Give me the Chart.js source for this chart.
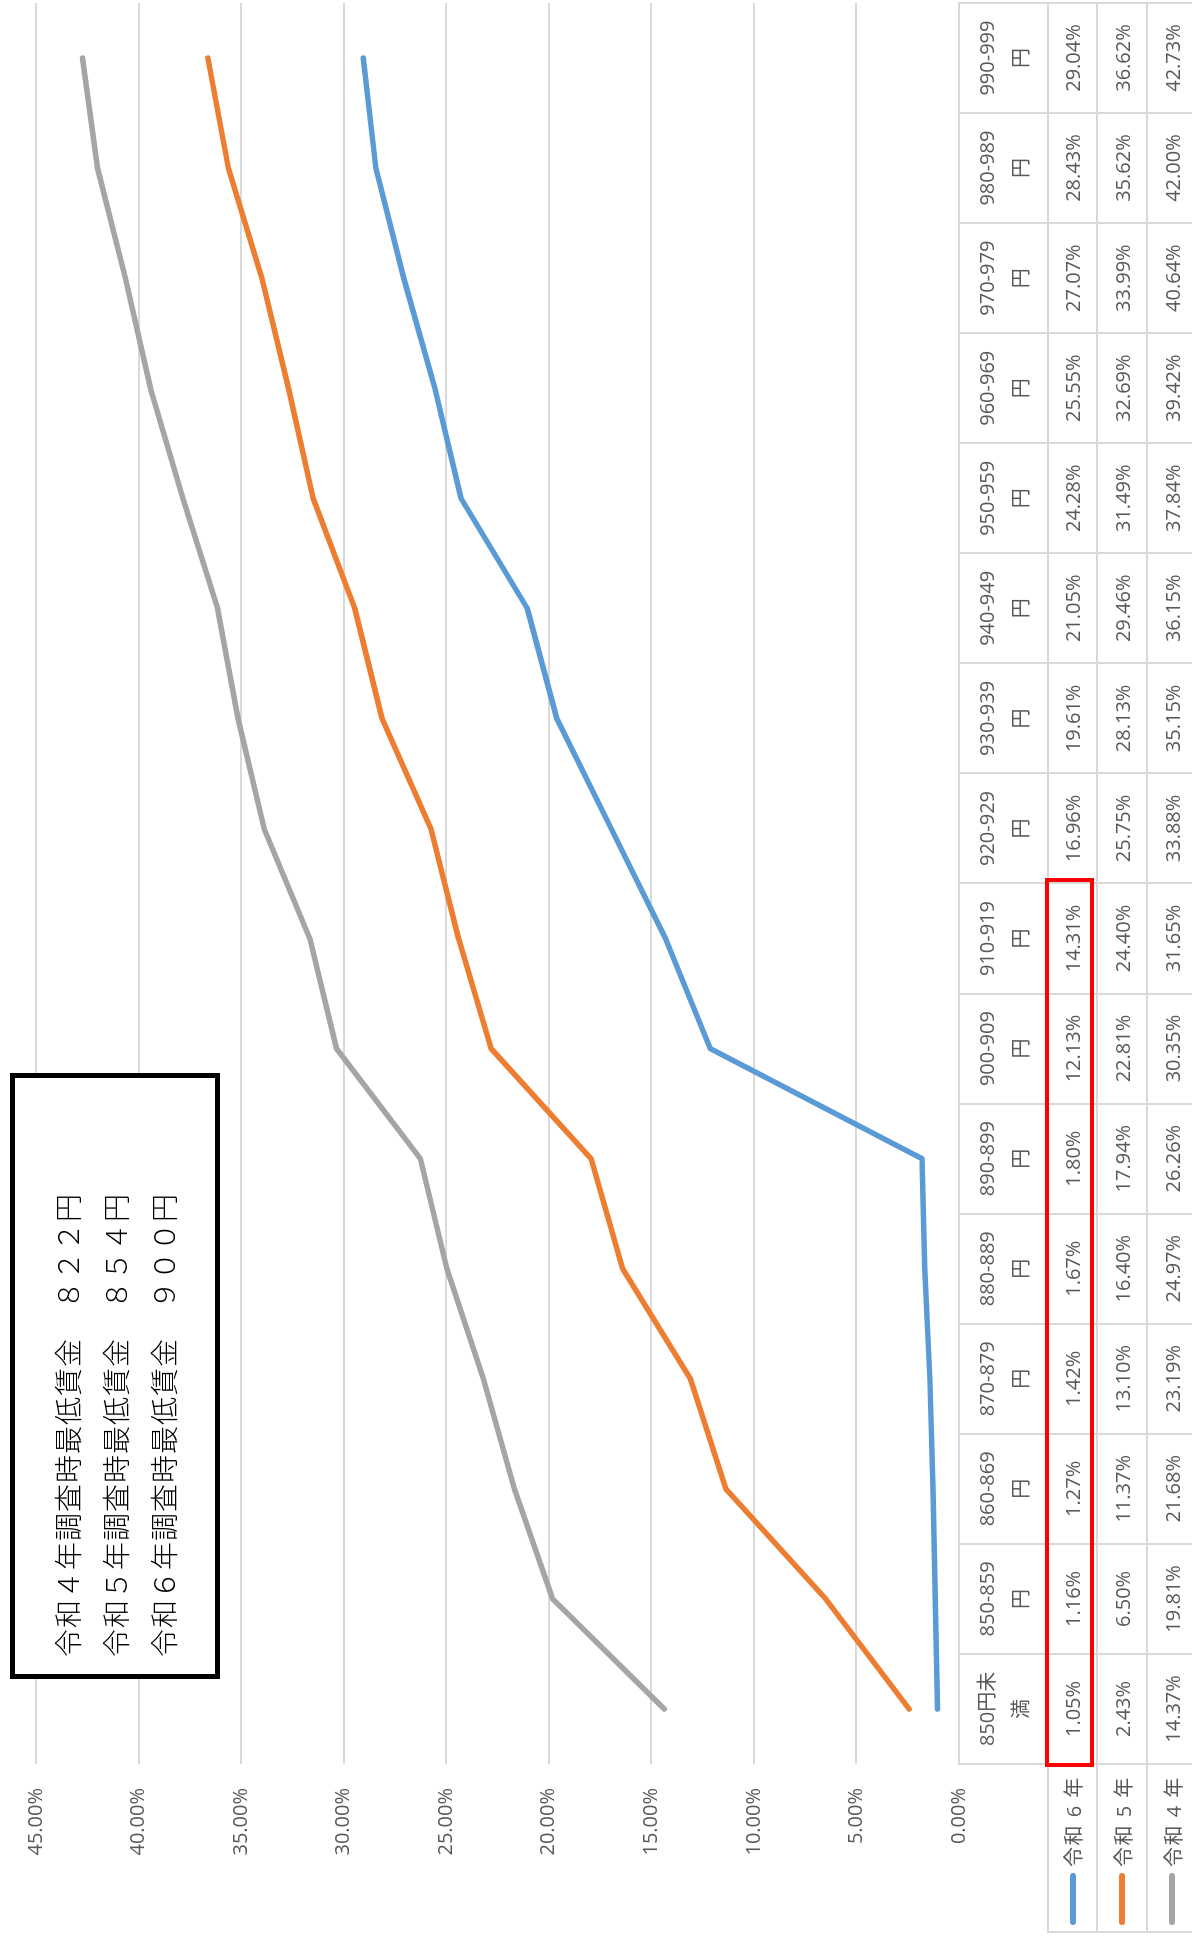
<!DOCTYPE html>
<html lang="ja">
<head>
<meta charset="utf-8">
<title>最低賃金 累積割合</title>
<script src="https://cdn.jsdelivr.net/npm/chart.js@4.4.1/dist/chart.umd.min.js"></script>
<style>
    html, body { margin: 0; padding: 0; background: #fff; overflow: hidden; }
    /* the whole chart is laid out landscape and turned a quarter left */
    #page {
        position: absolute; left: 0; top: 0;
        width: 1939px; height: 1192px; overflow: hidden;
        transform-origin: 0 0;
        transform: rotate(-90deg) translate(-1939px, 0);
        font-family: "Open Sans", "Noto Sans CJK JP", sans-serif;
        color: #595959;
    }
    #chart { position: absolute; left: 0; top: 0; }
    .cell {
        position: absolute; box-sizing: border-box;
        border: 2px solid #d9d9d9;
        display: flex; align-items: center; justify-content: center;
        text-align: center; font-size: 20px;
    }
    .cell.head { line-height: 34px; padding: 0 12px; word-break: break-all; }
    .cell.key { justify-content: flex-start; padding-left: 6px; letter-spacing: 1.5px; }
    .swatch { display: inline-block; width: 52px; height: 6px; border-radius: 3px; margin-right: 6px; }
    #note {
        position: absolute; box-sizing: border-box;
        border: 5px solid #000; background: #fff;
        padding: 28px 0 0 17px;
        font-family: "Noto Sans CJK JP", sans-serif; font-weight: 300;
        font-size: 28px; line-height: 48px; letter-spacing: 1px; color: #000;
        white-space: pre;
    }
    #mark { position: absolute; box-sizing: border-box; border: 4px solid #ff0000; }
</style>
</head>
<body>
<div id="page">
    <canvas id="chart" width="1939" height="1192"></canvas>
</div>
<script>
// categories (hourly wage bands)
const categories = ['850円未満', '850-859円', '860-869円', '870-879円', '880-889円', '890-899円',
    '900-909円', '910-919円', '920-929円', '930-939円', '940-949円', '950-959円',
    '960-969円', '970-979円', '980-989円', '990-999円'];

// cumulative share, %
const reiwa6 = [1.05, 1.16, 1.27, 1.42, 1.67, 1.80, 12.13, 14.31, 16.96, 19.61, 21.05, 24.28, 25.55, 27.07, 28.43, 29.04];
const reiwa5 = [2.43, 6.50, 11.37, 13.10, 16.40, 17.94, 22.81, 24.40, 25.75, 28.13, 29.46, 31.49, 32.69, 33.99, 35.62, 36.62];
const reiwa4 = [14.37, 19.81, 21.68, 23.19, 24.97, 26.26, 30.35, 31.65, 33.88, 35.15, 36.15, 37.84, 39.42, 40.64, 42.00, 42.73];

const seriesNames = ['令和 6 年', '令和 5 年', '令和 4 年'];
const seriesColors = ['#5b9bd5', '#ed7d31', '#a5a5a5'];

// value axis
const yMin = 0;
const yMax = 45;
const yStep = 5;

// text box
const notes = [
    '令和４年調査時最低賃金　８２２円',
    '令和５年調査時最低賃金　８５４円',
    '令和６年調査時最低賃金　９００円'
];

// cells of 令和6年 framed in red (first..last category index)
const highlightRange = [0, 7];

const allSeries = [reiwa6, reiwa5, reiwa4];

function lineSet(i) {
    return {
        label: seriesNames[i],
        data: allSeries[i],
        borderColor: seriesColors[i],
        backgroundColor: seriesColors[i],
        borderWidth: 5.5,
        borderCapStyle: 'round',
        borderJoinStyle: 'round',
        pointRadius: 0,
        tension: 0,
        fill: false
    };
}

const chart = new Chart(document.getElementById('chart').getContext('2d'), {
    type: 'line',
    data: {
        labels: categories,
        datasets: [lineSet(2), lineSet(1), lineSet(0)]
    },
    options: {
        responsive: false,
        animation: false,
        devicePixelRatio: 1,
        layout: { padding: { top: 32, right: 3, left: 0, bottom: 0 } },
        plugins: { legend: { display: false }, tooltip: { enabled: false } },
        scales: {
            x: {
                offset: true,
                grid: { display: false },
                border: { display: false },
                ticks: { display: false },
                afterFit: s => { s.height = 233; }
            },
            y: {
                min: yMin,
                max: yMax,
                grid: { color: '#d9d9d9', lineWidth: 2, drawTicks: false },
                border: { display: false },
                ticks: {
                    stepSize: yStep,
                    padding: 24,
                    color: '#595959',
                    font: { family: 'Open Sans', size: 20 },
                    callback: v => v.toFixed(2) + '%'
                },
                afterFit: s => { s.width = 175; }
            }
        }
    }
});

// data table under the plot, aligned on the category scale
const page = document.getElementById('page');
const xs = chart.scales.x;
const step = xs.getPixelForValue(1) - xs.getPixelForValue(0);
const colLeft = i => xs.getPixelForValue(i) - step / 2;
const tableTop = chart.chartArea.bottom;
const headH = 89;
const rowH = [49, 50, 50];

function addCell(cls, left, top, w, h, html) {
    const d = document.createElement('div');
    d.className = 'cell ' + cls;
    d.style.left = (left - 1) + 'px';
    d.style.top = (top - 1) + 'px';
    d.style.width = (w + 2) + 'px';
    d.style.height = (h + 2) + 'px';
    d.innerHTML = html;
    page.appendChild(d);
    return d;
}

categories.forEach((c, i) => addCell('head', colLeft(i), tableTop, step, headH, c));

let rowTop = tableTop + headH;
const rowTops = [];
allSeries.forEach((vals, s) => {
    rowTops.push(rowTop);
    addCell('key', 7, rowTop, xs.left - 7, rowH[s],
        '<span class="swatch" style="background:' + seriesColors[s] + '"></span>' + seriesNames[s]);
    vals.forEach((v, i) => addCell('val', colLeft(i), rowTop, step, rowH[s], v.toFixed(2) + '%'));
    rowTop += rowH[s];
});

// red frame
const mark = document.createElement('div');
mark.id = 'mark';
mark.style.left = (colLeft(highlightRange[0]) - 3) + 'px';
mark.style.top = (rowTops[0] - 3) + 'px';
mark.style.width = (colLeft(highlightRange[1]) + step - colLeft(highlightRange[0]) + 8) + 'px';
mark.style.height = rowH[0] + 'px';
page.appendChild(mark);

// note box
const note = document.createElement('div');
note.id = 'note';
note.style.left = '260px';
note.style.top = '10px';
note.style.width = '606px';
note.style.height = '210px';
note.textContent = notes.join('\n');
page.appendChild(note);
</script>
</body>
</html>
